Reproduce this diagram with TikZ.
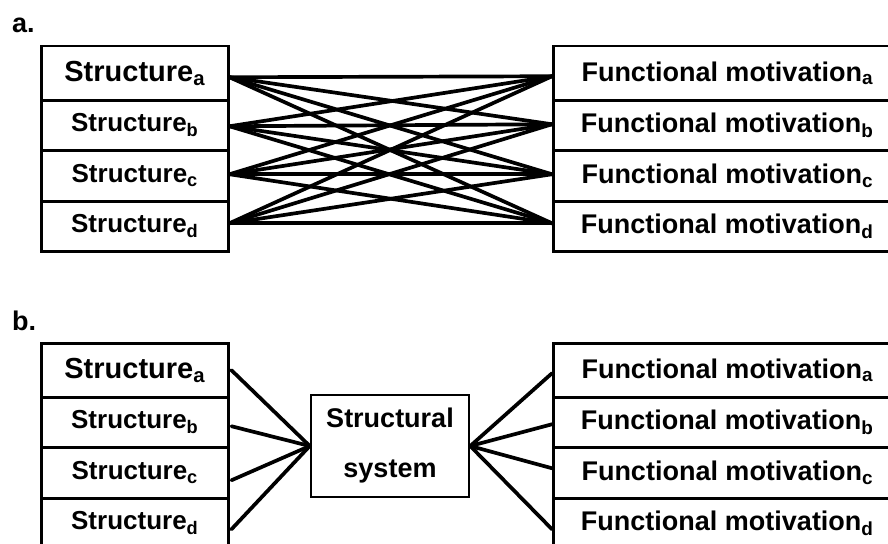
\documentclass[tikz,border=0pt]{standalone}
\usepackage{fontspec}
\setmainfont{Liberation Sans}
\begin{document}
\begin{tikzpicture}[x=1pt,y=-1pt,
  rowbox/.style={draw, line width=2.5pt, inner sep=0pt, anchor=north west, minimum height=#1},
  lrow/.style={rowbox=#1, minimum width=187pt, font=\fontsize{26}{30}\selectfont\bfseries},
  rrow/.style={rowbox=#1, minimum width=348pt, font=\fontsize{27}{30}\selectfont\bfseries},
  big/.style={font=\fontsize{29}{32}\selectfont\bfseries},
  panellabel/.style={anchor=base west, inner sep=0pt, font=\fontsize{27}{30}\selectfont\bfseries},
  conn/.style={line width=3.7pt, line cap=round},
  sysbox/.style={draw, line width=2.5pt, minimum width=158pt, minimum height=102pt, inner sep=0pt, align=center, font=\fontsize{27}{50}\selectfont\bfseries}]
\useasboundingbox (0,0) rectangle (888,543);
\clip (0,0) rectangle (888,543);
% panel a
\node[panellabel] (la) at (12,33) {a.};
\node[lrow=54, big] (La1) at (40,45) {Structure\textsubscript{a}};
\node[lrow=50] (La2) at (40,99) {Structure\textsubscript{b}};
\node[lrow=51] (La3) at (40,149) {Structure\textsubscript{c}};
\node[lrow=50] (La4) at (40,200) {Structure\textsubscript{d}};
\node[rrow=54] (Ra1) at (552,45) {Functional motivation\textsubscript{a}};
\node[rrow=50] (Ra2) at (552,99) {Functional motivation\textsubscript{b}};
\node[rrow=51] (Ra3) at (552,149) {Functional motivation\textsubscript{c}};
\node[rrow=50] (Ra4) at (552,200) {Functional motivation\textsubscript{d}};
\foreach \i/\dl in {1/-4,2/-1,3/1.5,4/3}
  \foreach \j/\dr in {1/-3,2/1,3/1.5,4/3}
    \draw[conn] ([yshift=\dl pt]La\i.east) -- ([yshift=\dr pt]Ra\j.west);
% panel b
\node[panellabel] (lb) at (12,330) {b.};
\node[lrow=54, big] (Lb1) at (40,342) {Structure\textsubscript{a}};
\node[lrow=50] (Lb2) at (40,396) {Structure\textsubscript{b}};
\node[lrow=51] (Lb3) at (40,446) {Structure\textsubscript{c}};
\node[lrow=50] (Lb4) at (40,497) {Structure\textsubscript{d}};
\node[rrow=54] (Rb1) at (552,342) {Functional motivation\textsubscript{a}};
\node[rrow=50] (Rb2) at (552,396) {Functional motivation\textsubscript{b}};
\node[rrow=51] (Rb3) at (552,446) {Functional motivation\textsubscript{c}};
\node[rrow=50] (Rb4) at (552,497) {Functional motivation\textsubscript{d}};
\node[sysbox] (SS) at (390,446) {Structural\\system};
\foreach \i/\dl in {1/0,2/-4,3/-7.5,4/-6}
  \draw[conn] ([xshift=2pt,yshift=\dl pt]Lb\i.east) -- (SS.west);
\foreach \j/\dr in {1/-3,2/-2,3/4.5,4/-6}
  \draw[conn] (SS.east) -- ([yshift=\dr pt]Rb\j.west);
\end{tikzpicture}
\end{document}
